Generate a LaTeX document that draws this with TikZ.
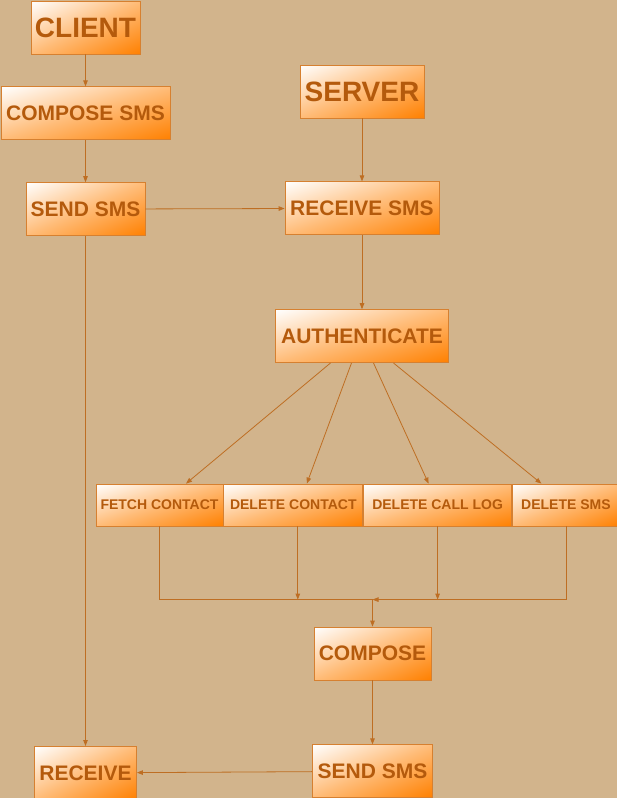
\documentclass[tikz,border=0pt]{standalone}
\usepackage{fontspec}
\setmainfont{Liberation Sans}
\usepackage{tikz}
\usetikzlibrary{arrows.meta,positioning,calc}
\definecolor{SmsTan}{RGB}{210,180,140}
\definecolor{SmsOrange}{RGB}{255,128,0}
\definecolor{SmsMid}{RGB}{255,188,120}
\definecolor{SmsEdge}{RGB}{214,128,48}
\definecolor{SmsText}{RGB}{180,90,12}
\definecolor{SmsLine}{RGB}{190,110,35}
\pgfdeclareverticalshading{smsfade}{100bp}{color(0bp)=(SmsOrange); color(50bp)=(SmsMid); color(100bp)=(white)}

\begin{document}
\begin{tikzpicture}[
  x=1pt,y=-1pt,
  box/.style={
    draw=SmsEdge,line width=0.8pt,
    path picture={
      \path let \p1=(path picture bounding box.south west),
                \p2=(path picture bounding box.north east),
                \n1={1.4142*(\x2-\x1)/100bp}, \n2={1.4142*(\y2-\y1)/100bp} in
        node[transform shape,inner sep=0pt,anchor=center,
             shift={(path picture bounding box.center)},xscale=\n1,yscale=\n2,rotate=45]
        at (0,0) {\pgfuseshading{smsfade}};
    },
    text=SmsText,font=\bfseries,inner sep=0pt,
    minimum height=53pt
  },
  big/.style={box,font=\fontsize{28}{30}\selectfont\bfseries},
  mid/.style={box,font=\fontsize{21}{23}\selectfont\bfseries},
  small/.style={box,minimum height=42pt,font=\fontsize{14}{16}\selectfont\bfseries},
  arr/.style={-{Triangle[length=6pt,width=4.5pt]},line width=0.8pt,SmsLine},
  link/.style={line width=0.8pt,SmsLine}
]
  \fill[SmsTan] (0,0) rectangle (617,798);
  \useasboundingbox (0,0) rectangle (617,798);

  % client side
  \node[big,minimum width=109pt] (client) at (85.5,27.5) {CLIENT};
  \node[mid,minimum width=169pt,below=32pt of client] (csms) {COMPOSE SMS};
  \node[mid,minimum width=119pt,below=42pt of csms] (csend) {SEND SMS};
  \node[mid,minimum width=102pt,below=510pt of csend] (crecv) {RECEIVE};

  % server side
  \node[big,minimum width=124pt] (server) at (362,91.5) {SERVER};
  \node[mid,minimum width=154pt,below=63pt of server] (srecv) {RECEIVE SMS};
  \node[mid,minimum width=173pt,below=74pt of srecv] (auth) {AUTHENTICATE};

  \node[small,minimum width=127pt] (fetch) at (159.5,505) {FETCH CONTACT};
  \node[small,minimum width=139pt,right=0pt of fetch] (delcontact) {DELETE CONTACT};
  \node[small,minimum width=148pt,right=0pt of delcontact] (delcall) {DELETE CALL LOG};
  \node[small,minimum width=107pt,right=0pt of delcall] (delsms) {DELETE SMS};

  \node[mid,minimum width=117pt] (scomp) at (372.5,653.5) {COMPOSE};
  \node[mid,minimum width=120pt,below=64pt of scomp] (ssend) {SEND SMS};
  \coordinate[above=27pt of scomp.north] (join);

  \draw[arr] (client) -- (csms);
  \draw[arr] (csms) -- (csend);
  \draw[arr] (csend) -- (srecv);
  \draw[arr] (csend) -- (crecv);
  \draw[arr] (server) -- (srecv);
  \draw[arr] (srecv) -- (auth);

  \draw[arr] ([xshift=-31.5pt]auth.south) -- ([xshift=26.5pt]fetch.north);
  \draw[arr] ([xshift=-10.5pt]auth.south) -- ([xshift=13.5pt]delcontact.north);
  \draw[arr] ([xshift=11.5pt]auth.south) -- ([xshift=-9pt]delcall.north);
  \draw[arr] ([xshift=31.5pt]auth.south) -- ([xshift=-24.5pt]delsms.north);

  \draw[link] (fetch.south) |- (join);
  \draw[arr] (delsms.south) |- (join);
  \draw[arr] ([xshift=4.5pt]delcontact.south) -- ([xshift=4.5pt]delcontact.south |- join);
  \draw[arr] (delcall.south) -- (delcall.south |- join);
  \draw[arr] (join) -- (scomp);
  \draw[arr] (scomp) -- (ssend);
  \draw[arr] (ssend) -- (crecv);
\end{tikzpicture}
\end{document}
